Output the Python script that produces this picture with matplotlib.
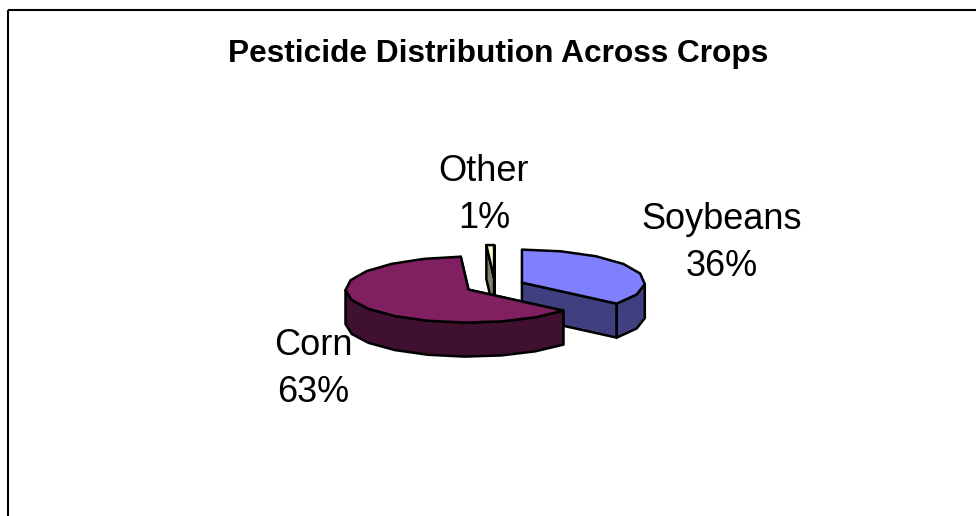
import numpy as np
import matplotlib
matplotlib.use('Agg')
import matplotlib.pyplot as plt
from matplotlib.patches import Polygon, Rectangle

plt.rcParams['font.family'] = ['Liberation Sans', 'DejaVu Sans']

# Dados
culturas = ['Soybeans', 'Corn', 'Other']
valores = [36, 63, 1]
cores_topo = ['#8080FF', '#802060', '#FFFFCC']
cores_lado = ['#404080', '#401030', '#808066']
ordem_desenho = [2, 0, 1]  # de tras para frente
pos_rotulos = [(722, 243), (313, 369), (484, 195)]

# Geometria da pizza (em pixels da figura)
cx, cy = 495, 286
rx, ry = 123, 33
altura = 34
explosao = 0.242
passo = 17


def arco(x0, y0, a1, a2):
    n = max(int(abs(a2 - a1) / passo), 1)
    ang = np.radians(np.linspace(a1, a2, n + 1))
    return np.column_stack([x0 + rx * np.cos(ang), y0 - ry * np.sin(ang)])


fig = plt.figure(figsize=(9.76, 5.16), dpi=100)
ax = fig.add_axes([0, 0, 1, 1])
ax.set_xlim(0, 976)
ax.set_ylim(516, 0)
ax.axis('off')

# Moldura (corta na direita e embaixo)
ax.add_patch(Rectangle((8, 10), 1000, 600, fill=False, edgecolor='black', linewidth=1.5))

# Angulos das fatias: comeca em 12 horas, sentido horario
fim = 90 - np.cumsum(valores) * 3.6
inicio = np.concatenate([[90], fim[:-1]])

for i in ordem_desenho:
    a1, a2 = inicio[i], fim[i]
    meio = np.radians((a1 + a2) / 2)
    x0 = cx + explosao * rx * np.cos(meio)
    y0 = cy - explosao * ry * np.sin(meio)
    estilo = dict(edgecolor='black', linewidth=1.8, joinstyle='round')

    # faces de corte
    for a in (a1, a2):
        r = arco(x0, y0, a, a)[0]
        face = [(x0, y0), r, (r[0], r[1] + altura), (x0, y0 + altura)]
        ax.add_patch(Polygon(face, facecolor=cores_lado[i], **estilo))

    # parede externa (so a parte da frente, seno negativo)
    borda = arco(x0, y0, a1, a2)
    ang = np.radians(np.linspace(a1, a2, len(borda)))
    frente = borda[np.sin(ang) <= 0.02]
    if len(frente) > 1:
        baixo = frente[::-1] + [0, altura]
        ax.add_patch(Polygon(np.vstack([frente, baixo]), facecolor=cores_lado[i], **estilo))

    # topo
    ax.add_patch(Polygon(np.vstack([[x0, y0], borda]), facecolor=cores_topo[i], **estilo))

ax.text(498, 54, 'Pesticide Distribution Across Crops', fontsize=22.8, fontweight='bold',
        ha='center', va='center')

for nome, valor, (x, y) in zip(culturas, valores, pos_rotulos):
    ax.text(x, y, f'{nome}\n{valor}%', fontsize=26, ha='center', va='center',
            linespacing=1.46, color='black')

fig.savefig('out.png', dpi=100)
